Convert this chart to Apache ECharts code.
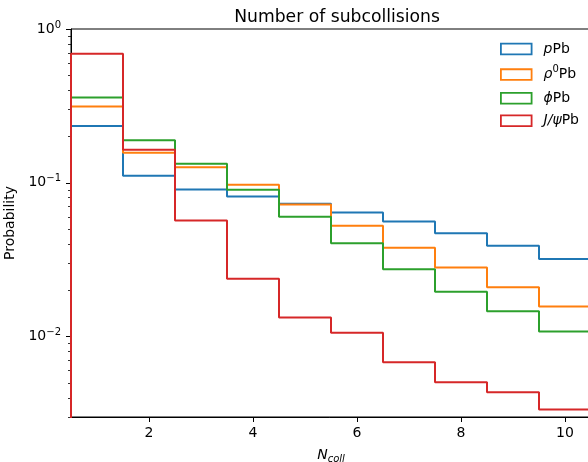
<!DOCTYPE html>
<html>
<head>
<meta charset="utf-8">
<script src="https://cdn.jsdelivr.net/npm/echarts@6/dist/echarts.min.js"></script>
<style>
  html, body { margin: 0; padding: 0; background: #fff; }
  #chart { width: 588px; height: 462px; }
</style>
</head>
<body>
<div id="chart"></div>
<script>
// bin edges of N_coll
var binEdges = [0.5, 1.5, 2.5, 3.5, 4.5, 5.5, 6.5, 7.5, 8.5, 9.5, 10.5];
var pPb    = [0.234, 0.111, 0.0905, 0.0815, 0.073, 0.0641, 0.0561, 0.0469, 0.039, 0.032];
var rhoPb  = [0.313, 0.157, 0.126, 0.097, 0.0723, 0.0526, 0.0378, 0.0281, 0.0209, 0.0157];
var phiPb  = [0.358, 0.189, 0.133, 0.090, 0.0602, 0.0404, 0.0274, 0.0196, 0.0146, 0.0108];
var jpsiPb = [0.691, 0.164, 0.0569, 0.0238, 0.0133, 0.0106, 0.0068, 0.00505, 0.00435, 0.00336];

var xTicks = [2, 4, 6, 8, 10];
var yMajor = [0.01, 0.1, 1];
var yMinor = [0.003, 0.004, 0.005, 0.006, 0.007, 0.008, 0.009,
              0.02, 0.03, 0.04, 0.05, 0.06, 0.07, 0.08, 0.09,
              0.2, 0.3, 0.4, 0.5, 0.6, 0.7, 0.8, 0.9];

var seriesNames = ['pPb', 'rhoPb', 'phiPb', 'jpsiPb'];
var seriesData = [pPb, rhoPb, phiPb, jpsiPb];
var colors = ['#1f77b4', '#ff7f0e', '#2ca02c', '#d62728'];
var legendText = {
  pPb: '{i|p}{t|Pb}',
  rhoPb: '{i|ρ}{sup|0}{t|Pb}',
  phiPb: '{i|ϕ}{t|Pb}',
  jpsiPb: '{i|J/ψ}{t|Pb}'
};

// step outline of a histogram, dropping to the floor at both edges
function stepPoints(vals) {
  var pts = [[binEdges[0], 0.001]];
  for (var i = 0; i < vals.length; i++) {
    pts.push([binEdges[i], vals[i]]);
  }
  pts.push([binEdges[binEdges.length - 1], vals[vals.length - 1]]);
  pts.push([binEdges[binEdges.length - 1], 0.001]);
  return pts;
}

var chart = echarts.init(document.getElementById('chart'));
var font = 'DejaVu Sans';
var fs = 14;

chart.setOption({
  animation: false,
  title: {
    text: 'Number of subcollisions',
    left: 332,
    textAlign: 'center',
    top: 4,
    textStyle: { fontFamily: font, fontSize: 17.2, fontWeight: 'normal', color: '#000' }
  },
  grid: {
    left: 71, top: 29, right: -3, bottom: 45,
    outerBoundsMode: 'none',
    containLabel: false,
    show: true, borderColor: '#000', borderWidth: 1
  },
  legend: {
    orient: 'vertical',
    left: 500,
    top: 42,
    padding: 0,
    itemWidth: 30.7,
    itemHeight: 10.7,
    itemGap: 8.6,
    data: seriesNames.map(function (n, i) {
      return {
        name: n,
        icon: 'rect',
        itemStyle: { color: '#fff', borderColor: colors[i], borderWidth: 1.8 }
      };
    }),
    formatter: function (name) { return legendText[name]; },
    textStyle: {
      fontFamily: font,
      fontSize: fs,
      color: '#000',
      padding: [0, 0, 0, 7],
      rich: {
        i: { fontFamily: font, fontSize: fs, fontStyle: 'italic', color: '#000', lineHeight: 16 },
        t: { fontFamily: font, fontSize: fs, color: '#000', lineHeight: 16 },
        sup: { fontFamily: font, fontSize: 10, color: '#000', lineHeight: 16, verticalAlign: 'bottom', padding: [0, 0, 8, 0] }
      }
    }
  },
  xAxis: {
    type: 'value',
    min: 0.5,
    max: 10.5,
    name: '{i|N}{s|coll}',
    nameLocation: 'middle',
    nameGap: 30,
    nameTextStyle: {
      rich: {
        i: { fontFamily: font, fontSize: fs, fontStyle: 'italic', color: '#000' },
        s: { fontFamily: font, fontSize: 10, fontStyle: 'italic', color: '#000', verticalAlign: 'top', padding: [7, 0, 0, 0] }
      }
    },
    splitLine: { show: false },
    axisLine: { lineStyle: { color: '#000', width: 1 } },
    axisTick: { customValues: xTicks, length: 5, lineStyle: { color: '#000' } },
    axisLabel: { customValues: xTicks, fontFamily: font, fontSize: fs, color: '#000', margin: 9 }
  },
  yAxis: [{
    type: 'log',
    logBase: 10,
    min: 0.003,
    max: 1,
    name: 'Probability',
    nameLocation: 'middle',
    nameGap: 50,
    nameTextStyle: { fontFamily: font, fontSize: fs, color: '#000' },
    splitLine: { show: false },
    axisLine: { lineStyle: { color: '#000', width: 1 } },
    axisTick: { customValues: yMajor, length: 5, lineStyle: { color: '#000' } },
    axisLabel: {
      customValues: yMajor,
      margin: 10,
      formatter: function (v) {
        var e = Math.round(Math.log10(v));
        return '{b|10}{sup|' + (e < 0 ? '\u2212' + (-e) : e) + '}';
      },
      rich: {
        b: { fontFamily: font, fontSize: fs, color: '#000' },
        sup: { fontFamily: font, fontSize: 10, color: '#000', verticalAlign: 'bottom', padding: [0, 0, 8, 0] }
      }
    }
  }, {
    type: 'log',
    logBase: 10,
    min: 0.003,
    max: 1,
    position: 'left',
    splitLine: { show: false },
    axisLine: { show: false },
    axisTick: { customValues: yMinor, length: 3, lineStyle: { color: '#000', width: 0.8 } },
    axisLabel: { show: false }
  }],
  series: seriesNames.map(function (n, i) {
    return {
      name: n,
      type: 'line',
      step: 'end',
      showSymbol: false,
      clip: true,
      color: colors[i],
      lineStyle: { width: 2, color: colors[i] },
      data: stepPoints(seriesData[i])
    };
  })
});
</script>
</body>
</html>
